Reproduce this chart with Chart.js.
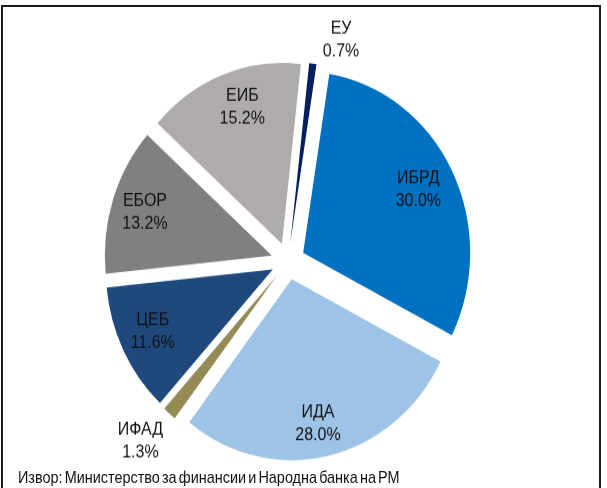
<!DOCTYPE html>
<html>
<head>
<meta charset="utf-8">
<script src="https://cdn.jsdelivr.net/npm/chart.js@4/dist/chart.umd.min.js"></script>
<style>
  html, body { margin: 0; padding: 0; background: #fff; overflow: hidden; }
  #frame { position: absolute; left: 1px; top: 5px; width: 596px; height: 600px; border: 2px solid #1a1a1a; }
  #wrap { position: absolute; left: 0; top: 0; width: 607px; height: 450px; transform: scaleY(1.084); transform-origin: 0 0; }
  #src { position: absolute; left: 18px; top: 432px; line-height: 18px; font: 16px "Liberation Sans", Arial, sans-serif; word-spacing: -2px; color: #111; white-space: nowrap; transform-origin: 0 0; }
</style>
</head>
<body>
<div id="frame"></div>
<div id="wrap">
  <canvas id="pie"></canvas>
  <div id="src">Извор: Министерство за финансии и Народна банка на РМ</div>
</div>
<script>
const labels = ['ЕУ', 'ИБРД', 'ИДА', 'ИФАД', 'ЦЕБ', 'ЕБОР', 'ЕИБ'];
const shares = [0.7, 30.0, 28.0, 1.3, 11.6, 13.2, 15.2];
const colors = ['#002060', '#0070C0', '#9DC3E6', '#948A54', '#1F497D', '#808080', '#AFABAB'];
// label distance from centre (px) and angle nudge (deg), per slice
const labelDist = [211, 146, 153, 222, 150, 150, 149];
const labelNudge = [6.8, 0.2, 1.3, 1.5, 1.0, -0.5, 3.0];

const RADIUS = 167;
const EXPLODE = 17;  // how far every slice is pulled out from the centre
const LINE_GAP = 10.4;

function pieCentre(chart) {
  const a = chart.chartArea;
  return { x: (a.left + a.right) / 2, y: (a.top + a.bottom) / 2 };
}

// pull each slice out along its own bisector (chart.js offset also trims the angle of thin slices)
const explode = {
  id: 'explode',
  beforeDatasetsDraw(chart) {
    const c = pieCentre(chart);
    chart.getDatasetMeta(0).data.forEach(arc => {
      const mid = (arc.startAngle + arc.endAngle) / 2;
      arc.x = c.x + Math.cos(mid) * EXPLODE;
      arc.y = c.y + Math.sin(mid) * EXPLODE;
    });
  }
};

const sliceLabels = {
  id: 'sliceLabels',
  afterDatasetsDraw(chart) {
    const ctx = chart.ctx;
    const c = pieCentre(chart);
    const arcs = chart.getDatasetMeta(0).data;
    ctx.save();
    ctx.font = '16px "Liberation Sans", Arial, sans-serif';
    ctx.fillStyle = '#111';
    ctx.textAlign = 'center';
    ctx.textBaseline = 'middle';
    arcs.forEach((arc, i) => {
      const mid = (arc.startAngle + arc.endAngle) / 2 + labelNudge[i] * Math.PI / 180;
      const x = c.x + Math.cos(mid) * labelDist[i];
      const y = c.y + Math.sin(mid) * labelDist[i];
      ctx.fillText(labels[i], x, y - LINE_GAP);
      ctx.fillText(shares[i].toFixed(1) + '%', x, y + LINE_GAP);
    });
    ctx.restore();
  }
};

new Chart(document.getElementById('pie').getContext('2d'), {
  type: 'pie',
  data: {
    labels: labels,
    datasets: [{
      data: shares,
      backgroundColor: colors,
      borderWidth: 0
    }]
  },
  options: {
    responsive: true,
    maintainAspectRatio: false,
    animation: false,
    rotation: 6.5,
    radius: RADIUS,
    layout: { padding: { left: 0, right: 31, top: 32, bottom: 0 } },
    plugins: { legend: { display: false }, tooltip: { enabled: false } }
  },
  plugins: [explode, sliceLabels]
});

// squeeze the source line to the width it has in the original
const src = document.getElementById('src');
src.style.transform = 'scaleX(' + (382 / src.offsetWidth) + ')';
</script>
</body>
</html>
